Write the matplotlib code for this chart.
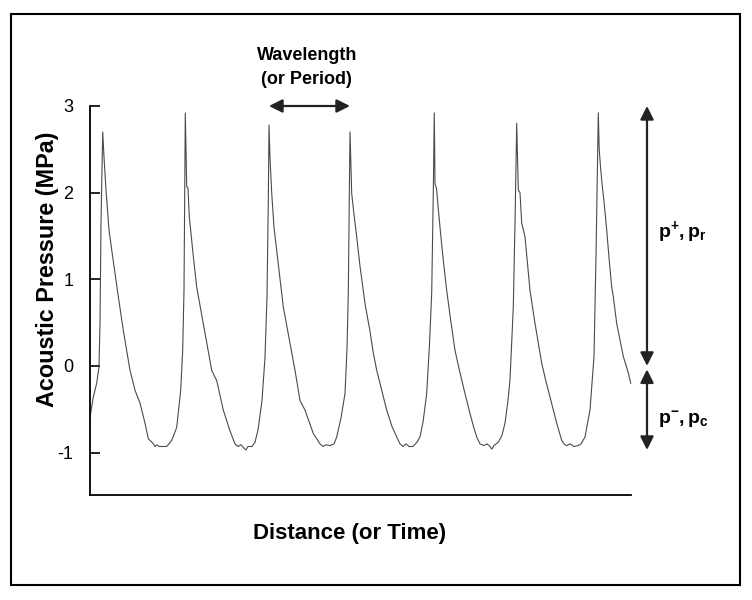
import matplotlib
matplotlib.use("Agg")
import matplotlib.pyplot as plt
from matplotlib.patches import Rectangle

# --- Data (distance in arbitrary units, pressure in MPa) ---

distance = [
    0.0, 3.3, 6.7, 9.0, 10.0, 11.0, 12.7,
    14.0, 16.0, 19.0, 21.7, 28.3, 33.3, 40.0, 45.0, 50.0, 55.0, 58.3, 61.7,
    63.5, 65.0, 67.0, 69.0, 72.0, 76.7, 81.7, 86.7, 90.7, 92.7, 94.0, 94.7, 95.3,
    96.3, 96.7, 98.0, 99.3, 103.0, 106.7, 113.3, 121.7, 126.7, 133.3, 140.0,
    145.0, 148.0, 151.0, 154.0, 156.0, 158.0, 162.0, 165.0, 168.0, 172.0,
    175.0, 177.0, 178.3, 179.0,
    180.0, 181.7, 184.0, 187.0, 193.3, 200.0, 205.0, 210.0, 215.0, 223.3,
    230.0, 233.0, 236.0, 240.0, 244.0, 246.7, 251.0, 255.0, 257.0, 258.3,
    259.5, 260.0,
    261.0, 261.7, 264.0, 266.7, 270.0, 275.0, 280.0, 283.3, 286.7, 291.0,
    296.7, 302.0, 306.7, 310.0, 313.0, 316.0, 319.0, 323.0, 327.0, 330.0,
    333.0, 336.7, 339.5, 341.7, 343.3, 344.3,
    345.0, 346.5, 348.0, 350.0, 353.0, 356.7, 361.0, 365.0, 370.0, 375.0,
    380.0, 384.0, 386.7, 390.0, 394.0, 397.0, 400.0, 401.7, 404.0, 408.3,
    412.0, 415.0, 418.0, 420.0, 423.3, 425.0, 426.7,
    427.5, 428.3, 430.0, 431.7, 435.0, 437.5, 440.0, 445.0, 451.7, 456.0,
    460.0, 466.7, 471.7, 474.0, 476.7, 480.0, 484.0, 488.0, 491.0, 495.0,
    500.0, 504.0, 506.0, 507.3, 508.3,
    509.2, 510.5, 512.3, 514.0, 516.7, 519.0, 521.7, 523.3, 526.7, 530.0,
    533.3, 538.3, 540.7,
]

pressure = [
    -0.59, -0.36, -0.20, -0.01, 0.49, 1.65, 2.70,
    2.41, 2.03, 1.57, 1.34, 0.80, 0.41, -0.05, -0.28, -0.43, -0.66, -0.84, -0.88,
    -0.90, -0.93, -0.91, -0.93, -0.93, -0.93, -0.86, -0.71, -0.28, 0.18, 0.87, 2.03, 2.92,
    2.30, 2.07, 2.05, 1.72, 1.30, 0.91, 0.49, -0.05, -0.17, -0.51, -0.75,
    -0.90, -0.93, -0.91, -0.95, -0.97, -0.93, -0.93, -0.88, -0.74, -0.40,
    0.10, 0.80, 1.90, 2.78,
    2.40, 2.00, 1.60, 1.30, 0.68, 0.26, -0.05, -0.40, -0.51, -0.78,
    -0.90, -0.93, -0.91, -0.92, -0.90, -0.82, -0.60, -0.32, 0.20, 0.84,
    2.20, 2.70,
    2.30, 1.99, 1.75, 1.49, 1.15, 0.72, 0.40, 0.15, -0.05, -0.25,
    -0.51, -0.70, -0.82, -0.90, -0.93, -0.90, -0.93, -0.93, -0.88, -0.82,
    -0.65, -0.32, 0.25, 0.84, 2.00, 2.92,
    2.10, 2.05, 1.85, 1.60, 1.25, 0.87, 0.50, 0.18, -0.08, -0.32,
    -0.55, -0.72, -0.82, -0.90, -0.92, -0.90, -0.93, -0.96, -0.92, -0.88,
    -0.80, -0.66, -0.40, -0.16, 0.68, 1.65, 2.80,
    2.40, 2.03, 2.00, 1.65, 1.49, 1.18, 0.87, 0.49, 0.03, -0.18,
    -0.36, -0.66, -0.86, -0.90, -0.92, -0.90, -0.93, -0.92, -0.90, -0.82,
    -0.51, 0.11, 1.26, 2.22, 2.92,
    2.50, 2.30, 2.07, 1.90, 1.57, 1.25, 0.91, 0.80, 0.49, 0.30,
    0.11, -0.08, -0.20,
]

y_ticks = [-1, 0, 1, 2, 3]

# annotation anchors (data units)
wavelength_span = (179.0, 260.0)
p_plus_span = (3.0, 0.0)
p_minus_span = (-0.04, -0.97)
arrow_x = 557.0

# --- Figure ---

plt.rcParams['font.family'] = ['Liberation Sans', 'DejaVu Sans']
plt.rcParams['mathtext.fontset'] = 'custom'
plt.rcParams['mathtext.rm'] = 'Liberation Sans'
plt.rcParams['mathtext.bf'] = 'Liberation Sans:bold'

W, H = 752, 600
fig = plt.figure(figsize=(W / 100, H / 100), dpi=100)

# outer frame round the whole picture
fig.patches.append(Rectangle((10.5 / W, 1 - 585 / H), (740 - 10.5) / W, (585 - 13.5) / H,
                             transform=fig.transFigure, fill=False,
                             edgecolor='black', linewidth=1.5))

ax = fig.add_axes([90 / W, 1 - 495 / H, (631 - 90) / W, (495 - 106) / H])
ax.plot(distance, pressure, color='#4a4a4a', linewidth=0.8, clip_on=False)

ax.set_xlim(0, 541)
ax.set_ylim(-1.49, 3.0)
ax.set_xticks([])
ax.set_yticks(y_ticks)
ax.set_yticklabels([str(t) for t in y_ticks])
ax.tick_params(axis='y', direction='in', length=7.5, width=1.2, pad=12, labelsize=13)

ax.spines['top'].set_visible(False)
ax.spines['right'].set_visible(False)
for side in ('left', 'bottom'):
    ax.spines[side].set_linewidth(1.3)

fig.text(48 / W, 1 - 269 / H, 'Acoustic Pressure (MPa)', rotation=90,
         ha='center', va='center', fontsize=16.8, fontweight='bold')
fig.text(350 / W, 1 - 533 / H, 'Distance (or Time)',
         ha='center', va='center', fontsize=16, fontweight='bold')

# wavelength marker
arrow_kw = dict(arrowstyle='<|-|>', color='#222222', lw=1.6, mutation_scale=20,
                shrinkA=0, shrinkB=0)
ax.annotate('', xy=(wavelength_span[0], 3.0), xytext=(wavelength_span[1], 3.0),
            arrowprops=arrow_kw, annotation_clip=False)
fig.text(307 / W, 1 - 55 / H, 'Wavelength', ha='center', va='center',
         fontsize=13, fontweight='bold')
fig.text(306 / W, 1 - 79 / H, '(or Period)', ha='center', va='center',
         fontsize=13, fontweight='bold')

# amplitude markers on the right
ax.annotate('', xy=(arrow_x, p_plus_span[0]), xytext=(arrow_x, p_plus_span[1]),
            arrowprops=arrow_kw, annotation_clip=False)
ax.annotate('', xy=(arrow_x, p_minus_span[0]), xytext=(arrow_x, p_minus_span[1]),
            arrowprops=arrow_kw, annotation_clip=False)
ax.text(arrow_x + 11, 1.55, r'$\mathbf{p^{+}, p_{r}}$', ha='left', va='center',
        fontsize=14, clip_on=False)
ax.text(arrow_x + 11, -0.62, r'$\mathbf{p^{-}, p_{c}}$', ha='left', va='center',
        fontsize=14, clip_on=False)

fig.savefig('out.png', dpi=100)
